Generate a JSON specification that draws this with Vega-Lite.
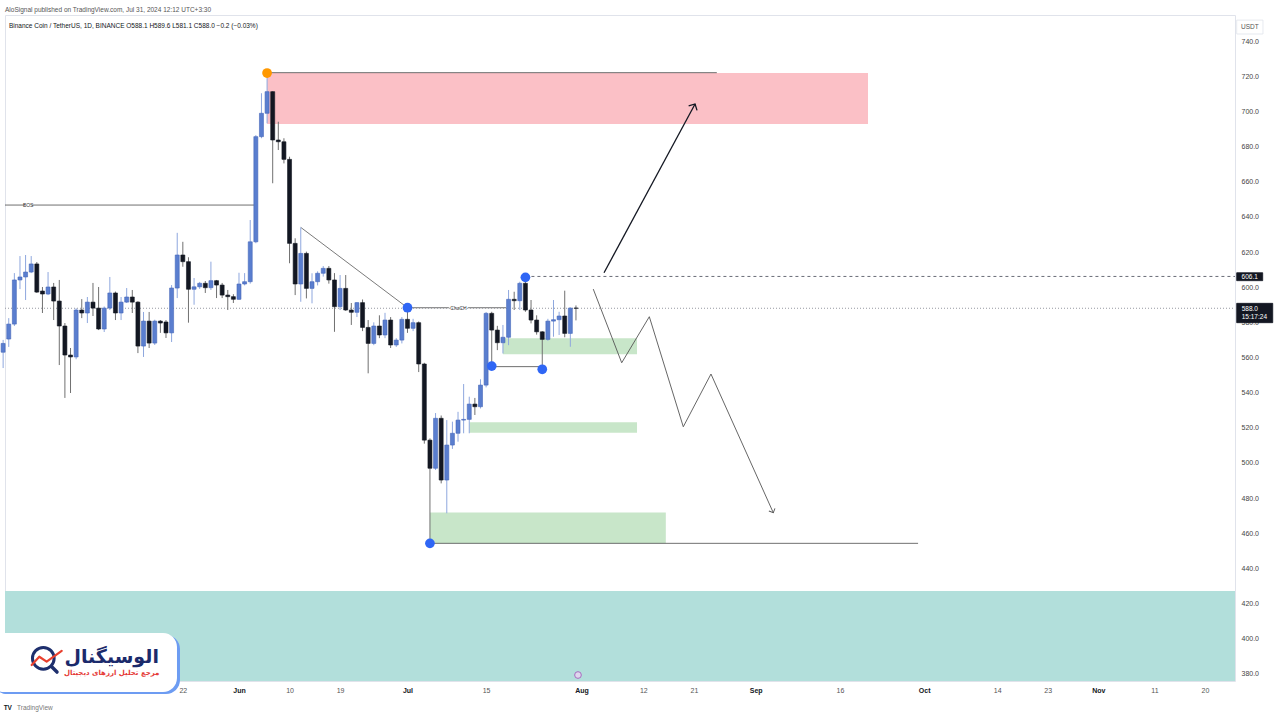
{
"$schema": "https://vega.github.io/schema/vega-lite/v6.json",
"width": 1230, "height": 666,
"autosize": {"type": "none"},
"padding": {"left": 5, "top": 15, "right": 45, "bottom": 39},
"background": "white",
"title": {"text": "AloSignal published on TradingView.com, Jul 31, 2024 12:12 UTC+3:30", "anchor": "start", "frame": "group", "fontSize": 6.5, "fontWeight": "normal", "color": "#555", "font": "Liberation Sans", "offset": 2},
"config": {"view": {"stroke": "#e0e3eb"}, "axis": {"grid": false, "ticks": false, "domain": false, "labelFont": "Liberation Sans", "labelFontSize": 7, "labelColor": "#444"}, "text": {"font": "Liberation Sans"}},
"datasets": {
"candles": [
{"d":"2024-04-20","o":563,"h":570,"l":554,"c":568},
{"d":"2024-04-21","o":570.5,"h":582.4,"l":566,"c":579},
{"d":"2024-04-22","o":579,"h":608,"l":577.9,"c":604.1},
{"d":"2024-04-23","o":604.1,"h":617.7,"l":598.9,"c":605.8},
{"d":"2024-04-24","o":605.8,"h":618.3,"l":592.7,"c":608.6},
{"d":"2024-04-25","o":608.6,"h":617.7,"l":608,"c":613.2},
{"d":"2024-04-26","o":613.2,"h":614.3,"l":596.7,"c":597.2},
{"d":"2024-04-27","o":597.8,"h":600.1,"l":585.3,"c":596.1},
{"d":"2024-04-28","o":596.1,"h":608.6,"l":595.5,"c":600.1},
{"d":"2024-04-29","o":600.1,"h":602.4,"l":581.3,"c":592.1},
{"d":"2024-04-30","o":592.1,"h":604.1,"l":555.7,"c":577.9},
{"d":"2024-05-01","o":577.9,"h":579.6,"l":537,"c":561.4},
{"d":"2024-05-02","o":561.4,"h":565.4,"l":539.8,"c":560.3},
{"d":"2024-05-03","o":560.3,"h":588,"l":559,"c":587},
{"d":"2024-05-04","o":587,"h":593.2,"l":582.4,"c":585.3},
{"d":"2024-05-05","o":585.3,"h":594.4,"l":579.6,"c":591.5},
{"d":"2024-05-06","o":591.5,"h":602.4,"l":583.6,"c":588.1},
{"d":"2024-05-07","o":588.1,"h":600.1,"l":575.6,"c":576.2},
{"d":"2024-05-08","o":576.2,"h":589,"l":574.5,"c":588.1},
{"d":"2024-05-09","o":588.1,"h":605.8,"l":587,"c":596.7},
{"d":"2024-05-10","o":596.7,"h":597.5,"l":581.3,"c":585.3},
{"d":"2024-05-11","o":585.3,"h":594.4,"l":581.3,"c":591.5},
{"d":"2024-05-12","o":591.5,"h":599.5,"l":591,"c":594.4},
{"d":"2024-05-13","o":594.4,"h":598.4,"l":585.3,"c":591.5},
{"d":"2024-05-14","o":591.5,"h":592,"l":562.5,"c":566.5},
{"d":"2024-05-15","o":566.5,"h":585.9,"l":560.3,"c":580.7},
{"d":"2024-05-16","o":580.7,"h":585.9,"l":565.4,"c":568.2},
{"d":"2024-05-17","o":568.2,"h":581.5,"l":567.1,"c":580.7},
{"d":"2024-05-18","o":580.7,"h":581.3,"l":574,"c":579.6},
{"d":"2024-05-19","o":580.2,"h":581.3,"l":571.1,"c":574},
{"d":"2024-05-20","o":574,"h":601.2,"l":568.8,"c":599.5},
{"d":"2024-05-21","o":599.5,"h":630.9,"l":593.8,"c":618.3},
{"d":"2024-05-22","o":618.3,"h":625.8,"l":611.6,"c":614.5},
{"d":"2024-05-23","o":614.5,"h":617,"l":579.8,"c":598.8},
{"d":"2024-05-24","o":598.8,"h":605.2,"l":590,"c":600.2},
{"d":"2024-05-25","o":600.2,"h":603,"l":599,"c":602.2},
{"d":"2024-05-26","o":602.2,"h":603.5,"l":596.7,"c":599.7},
{"d":"2024-05-27","o":599.7,"h":614.5,"l":598.4,"c":603.7},
{"d":"2024-05-28","o":603.7,"h":604.1,"l":593.8,"c":601.2},
{"d":"2024-05-29","o":601.2,"h":602.4,"l":593.8,"c":595.5},
{"d":"2024-05-30","o":595.5,"h":598.4,"l":587,"c":594.6},
{"d":"2024-05-31","o":594.6,"h":596,"l":591,"c":593.1},
{"d":"2024-06-01","o":593.1,"h":608.2,"l":592.7,"c":601.8},
{"d":"2024-06-02","o":601.8,"h":608,"l":601,"c":603.1},
{"d":"2024-06-03","o":603.1,"h":638.2,"l":602,"c":625.8},
{"d":"2024-06-04","o":625.8,"h":686.5,"l":625,"c":685.6},
{"d":"2024-06-05","o":685.6,"h":710.3,"l":684.7,"c":698.9},
{"d":"2024-06-06","o":698.9,"h":721.8,"l":693.2,"c":711.2},
{"d":"2024-06-07","o":711.2,"h":711.5,"l":659.1,"c":683.7},
{"d":"2024-06-08","o":683.7,"h":694.1,"l":678,"c":682.7},
{"d":"2024-06-09","o":682.7,"h":684.7,"l":670.4,"c":672.7},
{"d":"2024-06-10","o":672.7,"h":674.2,"l":613.6,"c":624.9},
{"d":"2024-06-11","o":624.9,"h":627.8,"l":595.5,"c":601.8},
{"d":"2024-06-12","o":601.8,"h":634,"l":591.7,"c":619.2},
{"d":"2024-06-13","o":619.2,"h":620.2,"l":593.6,"c":599.3},
{"d":"2024-06-14","o":599.3,"h":607.9,"l":590.8,"c":603.1},
{"d":"2024-06-15","o":603.1,"h":609,"l":601,"c":607.9},
{"d":"2024-06-16","o":607.9,"h":612,"l":606,"c":610.7},
{"d":"2024-06-17","o":610.7,"h":612,"l":602,"c":604.1},
{"d":"2024-06-18","o":604.1,"h":608,"l":574.6,"c":588.9},
{"d":"2024-06-19","o":588.9,"h":606.9,"l":587,"c":599.3},
{"d":"2024-06-20","o":599.3,"h":606.9,"l":586.5,"c":587},
{"d":"2024-06-21","o":587,"h":591,"l":578.5,"c":585.7},
{"d":"2024-06-22","o":585.7,"h":591.5,"l":583,"c":591.2},
{"d":"2024-06-23","o":591.2,"h":593,"l":575,"c":577.1},
{"d":"2024-06-24","o":577.1,"h":581.3,"l":551,"c":568},
{"d":"2024-06-25","o":568,"h":580,"l":567,"c":577.9},
{"d":"2024-06-26","o":577.9,"h":584,"l":571,"c":572.8},
{"d":"2024-06-27","o":572.8,"h":585.4,"l":571,"c":581.3},
{"d":"2024-06-28","o":581.3,"h":583,"l":565.4,"c":567.1},
{"d":"2024-06-29","o":567.1,"h":571,"l":566,"c":569.9},
{"d":"2024-06-30","o":569.9,"h":583,"l":568,"c":581.7},
{"d":"2024-07-01","o":581.7,"h":588.3,"l":574,"c":576.6},
{"d":"2024-07-02","o":576.6,"h":582,"l":575,"c":579.8},
{"d":"2024-07-03","o":579.8,"h":580.5,"l":551.7,"c":556.3},
{"d":"2024-07-04","o":556.3,"h":557,"l":511,"c":513},
{"d":"2024-07-05","o":513,"h":514,"l":454.3,"c":497},
{"d":"2024-07-06","o":497,"h":528.4,"l":496,"c":525.4},
{"d":"2024-07-07","o":525.4,"h":527,"l":488.4,"c":490.3},
{"d":"2024-07-08","o":490.3,"h":524.4,"l":471.4,"c":510.2},
{"d":"2024-07-09","o":510.2,"h":523.5,"l":508,"c":516.9},
{"d":"2024-07-10","o":516.9,"h":529.1,"l":512.1,"c":524.4},
{"d":"2024-07-11","o":524.4,"h":544.9,"l":516.9,"c":524.8},
{"d":"2024-07-12","o":524.8,"h":537.7,"l":516.9,"c":533.5},
{"d":"2024-07-13","o":533.5,"h":537,"l":527.3,"c":532},
{"d":"2024-07-14","o":532,"h":547.6,"l":531,"c":544.3},
{"d":"2024-07-15","o":544.3,"h":585.9,"l":543,"c":585.1},
{"d":"2024-07-16","o":585.1,"h":586,"l":555.1,"c":575.6},
{"d":"2024-07-17","o":575.6,"h":578,"l":564.2,"c":568.4},
{"d":"2024-07-18","o":568.4,"h":578.5,"l":562.3,"c":571.5},
{"d":"2024-07-19","o":571.5,"h":598.4,"l":567,"c":593.1},
{"d":"2024-07-20","o":593.1,"h":597.4,"l":587,"c":592.3},
{"d":"2024-07-21","o":592.3,"h":603.1,"l":587,"c":602.2},
{"d":"2024-07-22","o":602.2,"h":606.1,"l":586,"c":587},
{"d":"2024-07-23","o":587,"h":592.7,"l":579.4,"c":581.3},
{"d":"2024-07-24","o":581.3,"h":584,"l":573,"c":574.6},
{"d":"2024-07-25","o":574.6,"h":575,"l":553.3,"c":570.3},
{"d":"2024-07-26","o":570.3,"h":582,"l":569.5,"c":580.7},
{"d":"2024-07-27","o":580.7,"h":592.7,"l":571.8,"c":581.5},
{"d":"2024-07-28","o":581.5,"h":586,"l":572.8,"c":583.6},
{"d":"2024-07-29","o":583.6,"h":598,"l":571.5,"c":573.7},
{"d":"2024-07-30","o":573.7,"h":588.5,"l":566.1,"c":588.1},
{"d":"2024-07-31","o":588.1,"h":589.6,"l":581.1,"c":588}
],
"zones": [
{"d1":"2024-04-20T08:00:00Z","d2":"2024-11-25T08:25:00Z","p1":427.2,"p2":376,"k":"teal"},
{"d1":"2024-06-06T00:00:00Z","d2":"2024-09-21T00:00:00Z","p1":721.8,"p2":692.8,"k":"red"},
{"d1":"2024-07-18T00:00:00Z","d2":"2024-08-10T21:00:00Z","p1":570.9,"p2":561.8,"k":"green"},
{"d1":"2024-07-12T00:00:00Z","d2":"2024-08-10T21:00:00Z","p1":523.1,"p2":517.2,"k":"green"},
{"d1":"2024-07-05T00:00:00Z","d2":"2024-08-16T00:00:00Z","p1":471.9,"p2":454.3,"k":"green"}
],
"hlines": [
{"d1":"2024-04-20T08:00:00Z","d2":"2024-04-23T21:00:00Z","p":646.7,"s":"solid"},
{"d1":"2024-04-25T02:00:00Z","d2":"2024-06-03T20:00:00Z","p":646.7,"s":"solid"},
{"d1":"2024-06-06T00:00:00Z","d2":"2024-08-25T02:00:00Z","p":722.0,"s":"solid"},
{"d1":"2024-07-01T00:00:00Z","d2":"2024-07-08T09:00:00Z","p":588.3,"s":"solid"},
{"d1":"2024-07-11T19:00:00Z","d2":"2024-07-18T13:00:00Z","p":588.3,"s":"solid"},
{"d1":"2024-07-05T00:00:00Z","d2":"2024-09-29T22:00:00Z","p":454.3,"s":"solid"},
{"d1":"2024-07-16T00:00:00Z","d2":"2024-07-25T00:00:00Z","p":554.8,"s":"solid"},
{"d1":"2024-04-20T08:00:00Z","d2":"2024-11-25T08:25:00Z","p":588.0,"s":"dot"},
{"d1":"2024-07-22T00:00:00Z","d2":"2024-11-25T08:25:00Z","p":606.1,"s":"dash"}
],
"paths": [
{"g":"trend","i":0,"d":"2024-06-12T00:00:00Z","p":634},
{"g":"trend","i":1,"d":"2024-07-01T00:00:00Z","p":588.3},
{"g":"arrow","i":0,"d":"2024-08-05T00:00:00Z","p":608.2},
{"g":"arrow","i":1,"d":"2024-08-21T05:00:00Z","p":704.2},
{"g":"zig","i":0,"d":"2024-08-03T02:00:00Z","p":598.9},
{"g":"zig","i":1,"d":"2024-08-08T03:30:00Z","p":557.0},
{"g":"zig","i":2,"d":"2024-08-13T01:30:00Z","p":583.2},
{"g":"zig","i":3,"d":"2024-08-19T02:40:00Z","p":520.6},
{"g":"zig","i":4,"d":"2024-08-24T01:00:00Z","p":550.6},
{"g":"zig","i":5,"d":"2024-09-04T03:20:00Z","p":471.7},
{"g":"logored","i":0,"d":"2024-04-25T02:00:00Z","p":385.1},
{"g":"logored","i":1,"d":"2024-04-26T10:30:00Z","p":389.8},
{"g":"logored","i":2,"d":"2024-04-27T18:00:00Z","p":387.0},
{"g":"logored","i":3,"d":"2024-04-30T10:20:00Z","p":393.1},
{"g":"handle","i":0,"d":"2024-04-28T14:40:00Z","p":384.2},
{"g":"handle","i":1,"d":"2024-04-29T14:10:00Z","p":381.1}
],
"dots": [
{"d":"2024-06-06T00:00:00Z","p":721.8,"k":"orange"},
{"d":"2024-07-01T00:00:00Z","p":588.3,"k":"blue"},
{"d":"2024-07-05T00:00:00Z","p":454.3,"k":"blue"},
{"d":"2024-07-16T00:00:00Z","p":555.1,"k":"blue"},
{"d":"2024-07-25T00:00:00Z","p":553.3,"k":"blue"},
{"d":"2024-07-22T00:00:00Z","p":605.6,"k":"blue"}
],
"boxes": [
{"d1":"2024-11-25T15:40:00Z","d2":"2024-11-30T08:00:00Z","p1":751.9,"p2":744.0,"k":"light"},
{"d1":"2024-11-25T15:40:00Z","d2":"2024-11-30T06:45:00Z","p1":608.2,"p2":603.7,"k":"dark"},
{"d1":"2024-11-25T15:40:00Z","d2":"2024-12-02T01:40:00Z","p1":590.8,"p2":579.8,"k":"dark"}
],
"logobox": [
{"d1":"2024-04-17T16:00:00Z","d2":"2024-05-20T23:00:00Z","p1":403.3,"p2":369.7}
]
},
"layer": [
{"data": {"name": "zones"}, "mark": {"type": "rect"},
 "encoding": {
  "x": {"field": "d1", "type": "temporal", "title": null,
   "scale": {"type": "utc", "domain": [{"year":2024,"month":4,"date":20,"hours":8,"utc":true},{"year":2024,"month":11,"date":25,"hours":8,"minutes":25,"utc":true}], "nice": false, "padding": 0},
   "axis": {"values": [
     {"year":2024,"month":5,"date":22,"utc":true},{"year":2024,"month":6,"date":1,"utc":true},{"year":2024,"month":6,"date":10,"utc":true},{"year":2024,"month":6,"date":19,"utc":true},
     {"year":2024,"month":7,"date":1,"utc":true},{"year":2024,"month":7,"date":15,"utc":true},{"year":2024,"month":8,"date":1,"utc":true},{"year":2024,"month":8,"date":12,"utc":true},
     {"year":2024,"month":8,"date":21,"utc":true},{"year":2024,"month":9,"date":1,"utc":true},{"year":2024,"month":9,"date":16,"utc":true},{"year":2024,"month":10,"date":1,"utc":true},
     {"year":2024,"month":10,"date":14,"utc":true},{"year":2024,"month":10,"date":23,"utc":true},{"year":2024,"month":11,"date":1,"utc":true},{"year":2024,"month":11,"date":11,"utc":true},
     {"year":2024,"month":11,"date":20,"utc":true}],
    "tickCount": 40,
    "labelExpr": "utcdate(datum.value) == 1 ? utcFormat(datum.value, '%b') : utcFormat(datum.value, '%-d')",
    "labelPadding": 5, "labelOverlap": false, "labelFlush": false,
    "labelFontWeight": {"condition": {"test": "utcdate(datum.value) == 1", "value": "bold"}, "value": "normal"},
    "labelColor": {"condition": {"test": "utcdate(datum.value) == 1", "value": "#131722"}, "value": "#555"}}},
  "x2": {"field": "d2"},
  "y": {"field": "p1", "type": "quantitative", "title": null,
   "scale": {"domain": [376, 754.8], "nice": false, "zero": false, "padding": 0},
   "axis": {"orient": "right", "values": [380,400,420,440,460,480,500,520,540,560,580,600,620,640,660,680,700,720,740], "tickCount": 40, "format": ".1f", "labelPadding": 6, "labelAlign": "left", "labelBaseline": "middle", "labelOverlap": false, "labelFlush": false}},
  "y2": {"field": "p2"},
  "color": {"field": "k", "type": "nominal", "scale": {"domain": ["teal","red","green"], "range": ["#b2dfdb","#fbc0c6","#c8e6c9"]}, "legend": null}
 }},
{"data": {"name": "hlines"}, "transform": [{"filter": "datum.s == 'solid'"}], "mark": {"type": "rule", "color": "#4a4a4a", "strokeWidth": 0.8},
 "encoding": {"x": {"field": "d1", "type": "temporal", "title": null}, "x2": {"field": "d2"}, "y": {"field": "p", "type": "quantitative", "title": null}}},
{"data": {"name": "hlines"}, "transform": [{"filter": "datum.s == 'dot'"}], "mark": {"type": "rule", "color": "#9598a1", "strokeWidth": 1, "strokeDash": [1, 2]},
 "encoding": {"x": {"field": "d1", "type": "temporal", "title": null}, "x2": {"field": "d2"}, "y": {"field": "p", "type": "quantitative", "title": null}}},
{"data": {"name": "hlines"}, "transform": [{"filter": "datum.s == 'dash'"}], "mark": {"type": "rule", "color": "#6a6d78", "strokeWidth": 1, "strokeDash": [3, 3]},
 "encoding": {"x": {"field": "d1", "type": "temporal", "title": null}, "x2": {"field": "d2"}, "y": {"field": "p", "type": "quantitative", "title": null}}},
{"data": {"name": "paths"}, "transform": [{"filter": "datum.g == 'trend'"}], "mark": {"type": "line", "color": "#6b6b6b", "strokeWidth": 0.9},
 "encoding": {"x": {"field": "d", "type": "temporal", "title": null}, "y": {"field": "p", "type": "quantitative", "title": null}, "order": {"field": "i"}}},
{"data": {"name": "paths"}, "transform": [{"filter": "datum.g == 'zig'"}], "mark": {"type": "line", "color": "#555", "strokeWidth": 0.9},
 "encoding": {"x": {"field": "d", "type": "temporal", "title": null}, "y": {"field": "p", "type": "quantitative", "title": null}, "order": {"field": "i"}}},
{"data": {"name": "paths"}, "transform": [{"filter": "datum.g == 'arrow'"}], "mark": {"type": "line", "color": "#131722", "strokeWidth": 1.3},
 "encoding": {"x": {"field": "d", "type": "temporal", "title": null}, "y": {"field": "p", "type": "quantitative", "title": null}, "order": {"field": "i"}}},
{"data": {"name": "candles"}, "mark": {"type": "rule", "strokeWidth": 1},
 "encoding": {"x": {"field": "d", "type": "temporal", "title": null}, "y": {"field": "l", "type": "quantitative", "title": null}, "y2": {"field": "h"},
  "color": {"condition": {"test": "datum.c > datum.o", "value": "#8ea7de"}, "value": "#707070"}}},
{"data": {"name": "candles"}, "mark": {"type": "bar", "size": 4, "strokeWidth": 0.6},
 "encoding": {"x": {"field": "d", "type": "temporal", "title": null}, "y": {"field": "o", "type": "quantitative", "title": null}, "y2": {"field": "c"},
  "color": {"condition": {"test": "datum.c > datum.o", "value": "#5a7ecf"}, "value": "#131722"},
  "stroke": {"condition": {"test": "datum.c > datum.o", "value": "#4467b8"}, "value": "#131722"}}},
{"data": {"name": "dots"}, "mark": {"type": "point", "filled": true, "size": 95, "opacity": 1},
 "encoding": {"x": {"field": "d", "type": "temporal", "title": null}, "y": {"field": "p", "type": "quantitative", "title": null},
  "color": {"condition": {"test": "datum.k == 'orange'", "value": "#ff9800"}, "value": "#2f66f5"}}},
{"data": {"values": [{"g":"arrow","d":"2024-08-21T05:00:00Z","p":704.2},{"g":"zig","d":"2024-09-04T03:20:00Z","p":471.7}]},
 "mark": {"type": "point", "shape": "M-1,1L0,0L1,1", "filled": false, "opacity": 1},
 "encoding": {"x": {"field": "d", "type": "temporal", "title": null}, "y": {"field": "p", "type": "quantitative", "title": null},
  "angle": {"condition": {"test": "datum.g == 'arrow'", "value": 28}, "value": 156},
  "size": {"condition": {"test": "datum.g == 'arrow'", "value": 90}, "value": 45},
  "strokeWidth": {"condition": {"test": "datum.g == 'arrow'", "value": 1.3}, "value": 0.9},
  "color": {"condition": {"test": "datum.g == 'arrow'", "value": "#131722"}, "value": "#555"}}},
{"data": {"values": [{"t":"BOS","d":"2024-04-24T11:00:00Z","p":646.7},{"t":"ChoCH","d":"2024-07-10T02:00:00Z","p":588.3}]},
 "mark": {"type": "text", "fontSize": 5, "color": "#333", "align": "center", "baseline": "middle"},
 "encoding": {"x": {"field": "d", "type": "temporal", "title": null}, "y": {"field": "p", "type": "quantitative", "title": null}, "text": {"field": "t"}}},
{"data": {"values": [{"t":"Binance Coin / TetherUS, 1D, BINANCE  O588.1  H589.6  L581.1  C588.0  −0.2 (−0.03%)","d":"2024-04-21T01:00:00Z","p":748.5}]},
 "mark": {"type": "text", "fontSize": 6.5, "color": "#131722", "align": "left", "baseline": "middle"},
 "encoding": {"x": {"field": "d", "type": "temporal", "title": null}, "y": {"field": "p", "type": "quantitative", "title": null}, "text": {"field": "t"}}},
{"data": {"name": "boxes"}, "mark": {"type": "rect", "strokeWidth": 0.8},
 "encoding": {"x": {"field": "d1", "type": "temporal", "title": null}, "x2": {"field": "d2"}, "y": {"field": "p1", "type": "quantitative", "title": null}, "y2": {"field": "p2"},
  "fill": {"condition": {"test": "datum.k == 'dark'", "value": "#131722"}, "value": "#ffffff"},
  "stroke": {"condition": {"test": "datum.k == 'dark'", "value": "#131722"}, "value": "#e0e3eb"}}},
{"data": {"values": [
  {"t":"USDT","d":"2024-11-28T00:00:00Z","p":748.0,"k":"light"},
  {"t":"606.1","d":"2024-11-27T23:20:00Z","p":605.9,"k":"dark"}]},
 "mark": {"type": "text", "fontSize": 6.5, "align": "center", "baseline": "middle"},
 "encoding": {"x": {"field": "d", "type": "temporal", "title": null}, "y": {"field": "p", "type": "quantitative", "title": null}, "text": {"field": "t"},
  "color": {"condition": {"test": "datum.k == 'dark'", "value": "#ffffff"}, "value": "#555"},
  "fontWeight": {"condition": {"test": "datum.k == 'dark'", "value": "bold"}, "value": "normal"}}},
{"data": {"values": [
  {"t":"588.0","d":"2024-11-26T13:00:00Z","p":587.4,"k":"b"},
  {"t":"15:17:24","d":"2024-11-26T13:00:00Z","p":583.2,"k":"n"}]},
 "mark": {"type": "text", "fontSize": 6.5, "align": "left", "baseline": "middle", "color": "#ffffff"},
 "encoding": {"x": {"field": "d", "type": "temporal", "title": null}, "y": {"field": "p", "type": "quantitative", "title": null}, "text": {"field": "t"},
  "fontWeight": {"condition": {"test": "datum.k == 'b'", "value": "bold"}, "value": "normal"}}},
{"data": {"values": [{"d":"2024-07-31T08:40:00Z","p":379.4}]},
 "mark": {"type": "point", "filled": true, "size": 45, "color": "#f1d4f5", "stroke": "#a13cb5", "strokeWidth": 1},
 "encoding": {"x": {"field": "d", "type": "temporal", "title": null}, "y": {"field": "p", "type": "quantitative", "title": null}}},
{"data": {"name": "logobox"}, "mark": {"type": "rect", "cornerRadius": 14, "color": "#6d9cf2", "xOffset": 3, "x2Offset": 3, "yOffset": 2, "y2Offset": 2},
 "encoding": {"x": {"field": "d1", "type": "temporal", "title": null}, "x2": {"field": "d2"}, "y": {"field": "p1", "type": "quantitative", "title": null}, "y2": {"field": "p2"}}},
{"data": {"name": "logobox"}, "mark": {"type": "rect", "cornerRadius": 14, "color": "#ffffff"},
 "encoding": {"x": {"field": "d1", "type": "temporal", "title": null}, "x2": {"field": "d2"}, "y": {"field": "p1", "type": "quantitative", "title": null}, "y2": {"field": "p2"}}},
{"data": {"values": [{"d":"2024-04-27T03:40:00Z","p":388.9}]},
 "mark": {"type": "point", "filled": false, "size": 470, "color": "#1e2f6d", "strokeWidth": 3, "opacity": 1},
 "encoding": {"x": {"field": "d", "type": "temporal", "title": null}, "y": {"field": "p", "type": "quantitative", "title": null}}},
{"data": {"name": "paths"}, "transform": [{"filter": "datum.g == 'handle'"}], "mark": {"type": "line", "color": "#1e2f6d", "strokeWidth": 3.5, "strokeCap": "round"},
 "encoding": {"x": {"field": "d", "type": "temporal", "title": null}, "y": {"field": "p", "type": "quantitative", "title": null}, "order": {"field": "i"}}},
{"data": {"name": "paths"}, "transform": [{"filter": "datum.g == 'logored'"}], "mark": {"type": "line", "color": "#e8412f", "strokeWidth": 2.2, "strokeCap": "round", "strokeJoin": "round"},
 "encoding": {"x": {"field": "d", "type": "temporal", "title": null}, "y": {"field": "p", "type": "quantitative", "title": null}, "order": {"field": "i"}}},
{"data": {"values": [{"t":"الوسیگنال","d":"2024-05-09T08:00:00Z","p":389.8}]},
 "mark": {"type": "text", "font": "DejaVu Sans", "fontSize": 19, "fontWeight": "bold", "color": "#1b2a6b", "align": "center", "baseline": "middle"},
 "encoding": {"x": {"field": "d", "type": "temporal", "title": null}, "y": {"field": "p", "type": "quantitative", "title": null}, "text": {"field": "t"}}},
{"data": {"values": [{"t":"مرجع تحلیل ارزهای دیجیتال","d":"2024-05-09T08:00:00Z","p":380.3}]},
 "mark": {"type": "text", "font": "DejaVu Sans", "fontSize": 7, "fontWeight": "bold", "color": "#e53935", "align": "center", "baseline": "middle"},
 "encoding": {"x": {"field": "d", "type": "temporal", "title": null}, "y": {"field": "p", "type": "quantitative", "title": null}, "text": {"field": "t"}}},
{"data": {"values": [{"t":"TV","d":"2024-04-20T20:00:00Z","p":360.9}]},
 "mark": {"type": "text", "fontSize": 6.5, "fontWeight": "bold", "color": "#131722", "align": "center", "baseline": "middle"},
 "encoding": {"x": {"field": "d", "type": "temporal", "title": null}, "y": {"field": "p", "type": "quantitative", "title": null}, "text": {"field": "t"}}},
{"data": {"values": [{"t":"TradingView","d":"2024-04-22T11:20:00Z","p":360.9}]},
 "mark": {"type": "text", "fontSize": 6.5, "color": "#777", "align": "left", "baseline": "middle"},
 "encoding": {"x": {"field": "d", "type": "temporal", "title": null}, "y": {"field": "p", "type": "quantitative", "title": null}, "text": {"field": "t"}}}
]
}
